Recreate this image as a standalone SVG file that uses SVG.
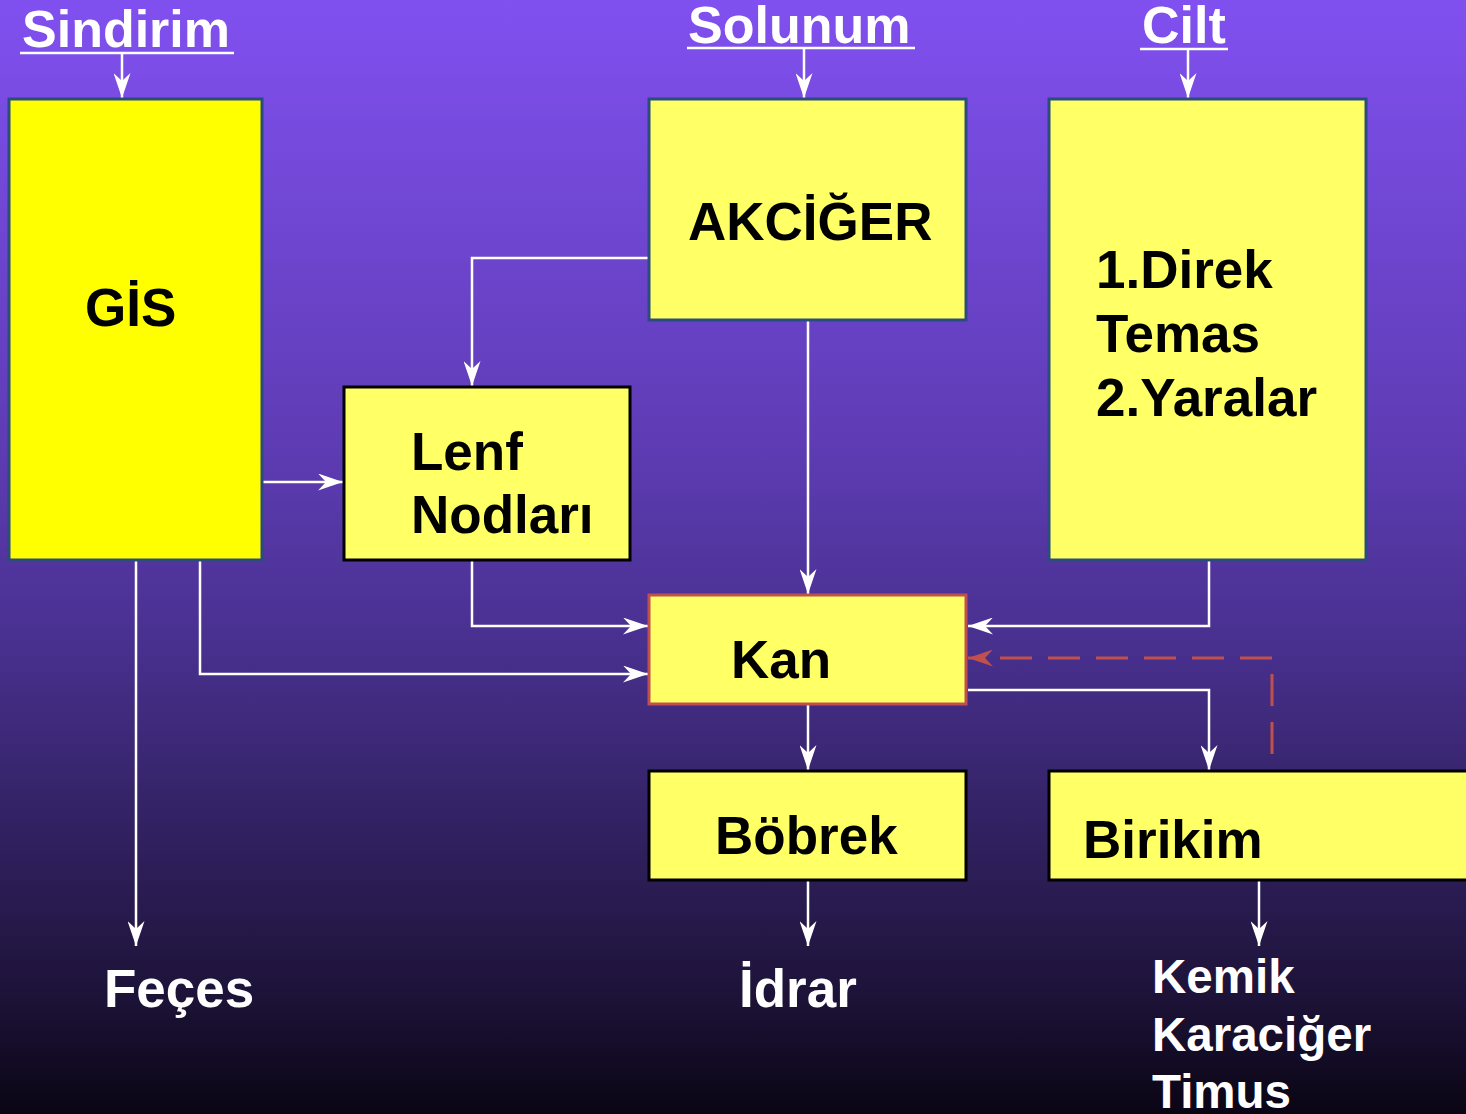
<svg xmlns="http://www.w3.org/2000/svg" width="1466" height="1114" viewBox="0 0 1466 1114">
<defs>
<linearGradient id="bg" x1="0" y1="0" x2="0" y2="1">
<stop offset="0" stop-color="#8150f0"/>
<stop offset="0.4" stop-color="#5e3cb4"/>
<stop offset="0.58" stop-color="#48308e"/>
<stop offset="0.8" stop-color="#2a1c52"/>
<stop offset="0.9" stop-color="#1c1236"/>
<stop offset="1" stop-color="#0a0514"/>
</linearGradient>
<marker id="aw" viewBox="0 0 25 17" refX="25" refY="8.5" markerWidth="25" markerHeight="17" markerUnits="userSpaceOnUse" orient="auto">
<path d="M0,0 L25,8.5 L0,17 L8,8.5 Z" fill="#ffffff"/>
</marker>
<marker id="ar" viewBox="0 0 25 17" refX="25" refY="8.5" markerWidth="25" markerHeight="17" markerUnits="userSpaceOnUse" orient="auto">
<path d="M0,0 L25,8.5 L0,17 L8,8.5 Z" fill="#c0504d"/>
</marker>
</defs>
<style>
.t{font-family:"Liberation Sans",Arial,sans-serif;font-weight:bold;font-size:53px}
.b{fill:#000000}
.w{fill:#ffffff}
.box{fill:#ffff66;stroke-width:3}
.c{fill:none;stroke:#ffffff;stroke-width:2.5;marker-end:url(#aw)}
.u{stroke:#ffffff;stroke-width:2.5}
</style>
<rect x="0" y="0" width="1466" height="1114" fill="url(#bg)"/>

<g id="titles">
<text class="t w" x="22" y="47" style="font-size:52px">Sindirim</text>
<line class="u" x1="20" y1="53" x2="234" y2="53"/>
<text class="t w" x="688" y="43" style="font-size:52px">Solunum</text>
<line class="u" x1="687" y1="48" x2="915" y2="48"/>
<text class="t w" x="1142" y="43" style="font-size:52px">Cilt</text>
<line class="u" x1="1140" y1="49" x2="1228" y2="49"/>
</g>

<g id="connectors">
<line class="c" x1="122" y1="53" x2="122" y2="98"/>
<line class="c" x1="804" y1="48" x2="804" y2="98"/>
<line class="c" x1="1188" y1="49" x2="1188" y2="98"/>
<polyline class="c" points="648,258 472,258 472,386"/>
<line class="c" x1="808" y1="321" x2="808" y2="594"/>
<line class="c" x1="263" y1="482" x2="343" y2="482"/>
<polyline class="c" points="472,561 472,626 648,626"/>
<polyline class="c" points="200,561 200,674 648,674"/>
<line class="c" x1="136" y1="561" x2="136" y2="946"/>
<polyline class="c" points="1209,561 1209,626 968,626"/>
<polyline class="c" points="968,690 1209,690 1209,770"/>
<line class="c" x1="808" y1="705" x2="808" y2="770"/>
<line class="c" x1="808" y1="881" x2="808" y2="946"/>
<line class="c" x1="1259" y1="881" x2="1259" y2="946"/>
<polyline points="1272,754 1272,658 968,658" fill="none" stroke="#c0504d" stroke-width="3" stroke-dasharray="32,16" marker-end="url(#ar)"/>
</g>

<g id="gis">
<rect x="9" y="99" width="253" height="461" fill="#ffff00" stroke="#2b4c7e" stroke-width="3"/>
<text class="t b" x="85" y="326">GİS</text>
</g>

<g id="akciger">
<rect class="box" x="649" y="99" width="317" height="221" stroke="#2b4c7e"/>
<text class="t b" x="688" y="240">AKCİĞER</text>
</g>

<g id="cilt-box">
<rect class="box" x="1049" y="99" width="317" height="461" stroke="#2b4c7e"/>
<text class="t b" x="1096" y="288">1.Direk</text>
<text class="t b" x="1096" y="352">Temas</text>
<text class="t b" x="1096" y="416">2.Yaralar</text>
</g>

<g id="lenf">
<rect class="box" x="344" y="387" width="286" height="173" stroke="#000000"/>
<text class="t b" x="411" y="470">Lenf</text>
<text class="t b" x="411" y="533">Nodları</text>
</g>

<g id="kan">
<rect class="box" x="649" y="595" width="317" height="109" stroke="#c0504d"/>
<text class="t b" x="731" y="678">Kan</text>
</g>

<g id="bobrek">
<rect class="box" x="649" y="771" width="317" height="109" stroke="#000000"/>
<text class="t b" x="715" y="854">Böbrek</text>
</g>

<g id="birikim">
<rect class="box" x="1049" y="771" width="430" height="109" stroke="#000000"/>
<text class="t b" x="1083" y="858">Birikim</text>
</g>

<g id="feces">
<text class="t w" x="104" y="1007">Feçes</text>
</g>

<g id="idrar">
<text class="t w" x="739" y="1007">İdrar</text>
</g>

<g id="organlar">
<text class="t w" x="1152" y="993" style="font-size:47.5px">Kemik</text>
<text class="t w" x="1152" y="1051" style="font-size:47.5px">Karaciğer</text>
<text class="t w" x="1152" y="1108" style="font-size:47.5px">Timus</text>
</g>
</svg>
